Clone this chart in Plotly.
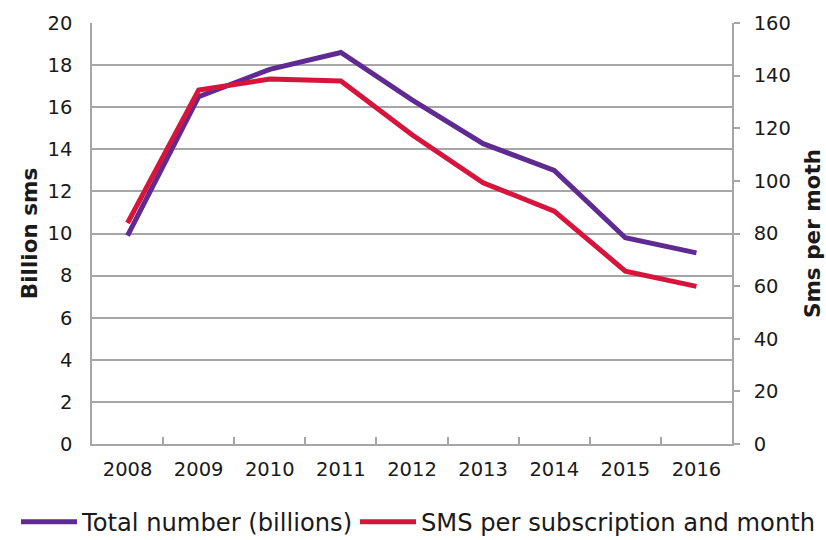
import plotly.graph_objects as go

years = ["2008", "2009", "2010", "2011", "2012", "2013", "2014", "2015", "2016"]
total_billions = [9.9, 16.5, 17.8, 18.6, 16.35, 14.27, 13.0, 9.8, 9.08]
sms_per_sub = [84, 134.5, 138.7, 138, 117.5, 99.3, 88.5, 65.7, 59.9]

FONT = "DejaVu Sans, Verdana, sans-serif"
GRID = "#a6a6a6"

fig = go.Figure()
fig.add_trace(go.Scatter(
    x=years, y=total_billions, name="Total number (billions)",
    mode="lines", line=dict(color="#5F2A91", width=5), yaxis="y", legend="legend"))
fig.add_trace(go.Scatter(
    x=years, y=sms_per_sub, name="SMS per subscription and month",
    mode="lines", line=dict(color="#D7143C", width=5), yaxis="y2", legend="legend2"))

leg_common = dict(orientation="h", xanchor="left", yref="container",
                  y=(540 - 522) / 540, yanchor="middle",
                  font=dict(size=24.2), itemwidth=56, bgcolor="rgba(0,0,0,0)")

fig.update_layout(
    width=826, height=540,
    margin=dict(l=92, r=94, t=23, b=96),
    paper_bgcolor="white", plot_bgcolor="white",
    font=dict(family=FONT, size=19.5, color="#1a1a1a"),
    showlegend=True,
    legend=dict(x=(16 - 92) / 640, **leg_common),
    legend2=dict(x=(355 - 92) / 640, **leg_common),
    xaxis=dict(type="category", range=[-0.5, 8.5], showline=True, linecolor=GRID,
               linewidth=1.5, ticks="inside", tickson="boundaries", ticklen=7,
               tickcolor=GRID, tickwidth=1.5, showgrid=False, mirror=False,
               ticklabelstandoff=7, automargin=False),
    yaxis=dict(range=[0, 20], dtick=2, showgrid=True, gridcolor=GRID, gridwidth=1.5,
               showline=True, linecolor=GRID, linewidth=1.5, ticks="",
               zeroline=False, ticklabelstandoff=14, automargin=False,
               title=dict(text="<b>Billion sms</b>", font=dict(size=21.5), standoff=4)),
    yaxis2=dict(range=[0, 160], dtick=20, overlaying="y", side="right", showgrid=False,
                showline=True, linecolor=GRID, linewidth=1.5, ticks="outside",
                ticklen=6, tickcolor=GRID, tickwidth=1.5, zeroline=False,
                ticklabelstandoff=10, automargin=False,
                title=dict(text="<b>Sms per moth</b>", font=dict(size=21.5), standoff=15)),
)

fig.write_html("out.html")
